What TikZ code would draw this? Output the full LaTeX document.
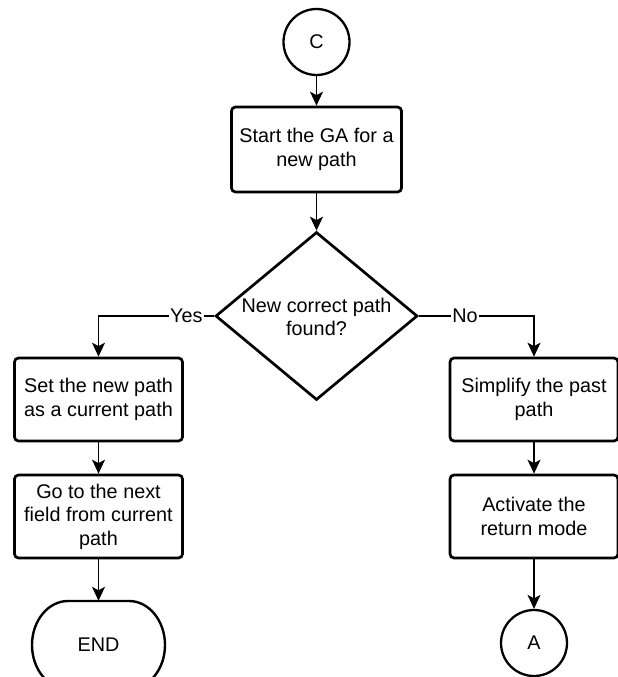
\documentclass[tikz,border=0pt]{standalone}
\usepackage{fontspec}
\setmainfont{Liberation Sans}
\usetikzlibrary{shapes.geometric,arrows.meta}
\begin{document}
\begin{tikzpicture}[x=1pt,y=-1pt,
  every node/.style={font=\fontsize{19.8}{23.5}\selectfont},
  proc/.style={draw, line width=2.7pt, rounded corners=4pt, minimum width=168pt,
               minimum height=83pt, align=center, inner sep=0pt},
  conn/.style={draw, circle, line width=2.3pt, minimum size=66pt, inner sep=0pt},
  decision/.style={draw, diamond, line width=2.7pt, minimum width=202pt,
                   minimum height=168pt, inner sep=0pt},
  flow/.style={line width=1.3pt, -{Stealth[length=14pt,width=13pt,inset=3.5pt]}},
  lbl/.style={fill=white, inner sep=1pt}
]
\useasboundingbox (0,0) rectangle (618,677);

% main column
\node[conn] (c) at (316.5,42) {C};
\node[proc, minimum width=170pt, minimum height=85pt] (start) at (316.5,149.5)
  {Start the GA for a\\new path};
\node[decision] (dec) at (316.5,316) {};
\node[align=center] (dectext) at (316.5,317) {New correct path\\found?};

% left branch
\node[proc] (set) at (98.5,399.5) {Set the new path\\as a current path};
\node[proc] (go) at (98.5,516.5) {Go to the next\\field from current\\path};
\node[minimum width=133pt, minimum height=88pt, inner sep=0pt] (endt) at (98.5,645) {END};
\draw[line width=2.4pt]
  (68,601) -- (129,601)
  arc[start angle=-90, end angle=0, x radius=36, y radius=44]
  arc[start angle=0, end angle=90, x radius=36, y radius=44]
  -- (68,689)
  arc[start angle=90, end angle=180, x radius=36, y radius=44]
  arc[start angle=180, end angle=270, x radius=36, y radius=44]
  -- cycle;

% right branch
\node[proc] (simp) at (534,399.5) {Simplify the past\\path};
\node[proc] (act) at (534,516.5) {Activate the\\return mode};
\node[conn] (a) at (534,643) {A};

% connectors
\draw[flow] (c) -- (start);
\draw[flow] (start) -- (dec);
\draw[flow] (dec.west) -| node[lbl, pos=0.12] {Yes} (set);
\draw[flow] (dec.east) -| node[lbl, pos=0.2] {No} (simp);
\draw[flow] (set) -- (go);
\draw[flow] (go) -- (endt.north);
\draw[flow] (simp) -- (act);
\draw[flow] (act) -- (a);
\end{tikzpicture}
\end{document}
